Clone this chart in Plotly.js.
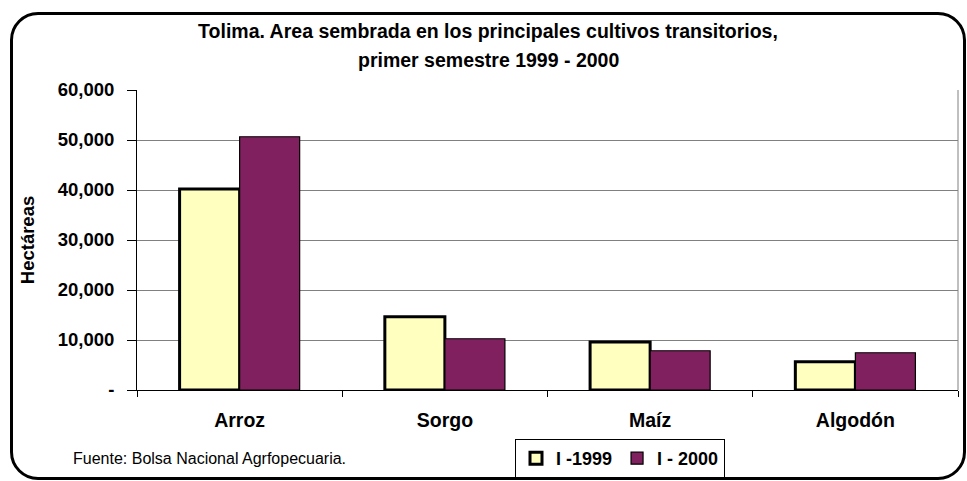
<!DOCTYPE html>
<html>
<head>
<meta charset="utf-8">
<script src="https://cdn.plot.ly/plotly-3.0.1.min.js"></script>
<style>
  html, body { margin: 0; padding: 0; background: #fff; overflow: hidden; }
  #wrap { position: relative; width: 967px; height: 481px; }
  #chart { position: absolute; left: 0; top: 0; width: 967px; height: 481px; }
  #frame { position: absolute; left: 10px; top: 12px; width: 956px; height: 468px;
           box-sizing: border-box; border: 3px solid #000; border-radius: 28px;
           pointer-events: none; }
</style>
</head>
<body>
<div id="wrap">
  <div id="chart"></div>
  <div id="frame"></div>
</div>
<script>
// ---- data ----
const categories = ["Arroz", "Sorgo", "Maíz", "Algodón"];
const seriesNames = ["I -1999", "I - 2000"];
const values1999 = [40200, 14650, 9600, 5650];
const values2000 = [50650, 10250, 7850, 7450];
const yTickVals = [0, 10000, 20000, 30000, 40000, 50000, 60000];
const yTickText = ["-", "10,000", "20,000", "30,000", "40,000", "50,000", "60,000"];
const titleLines = ["Tolima. Area sembrada en los principales cultivos transitorios,", "primer semestre 1999 - 2000"];
const yTitle = "Hectáreas";
const sourceNote = "Fuente: Bolsa Nacional Agrfopecuaria.";

const FONT = "'Liberation Sans', Arial, sans-serif";

const traces = [
  {
    type: "bar", name: seriesNames[0], x: categories, y: values1999,
    marker: { color: "#FFFFC0", line: { color: "#000", width: 3 } },
    hoverinfo: "x+y"
  },
  {
    type: "bar", name: seriesNames[1], x: categories, y: values2000,
    marker: { color: "#80205F", line: { color: "#000", width: 1.2 } },
    hoverinfo: "x+y"
  }
];

const layout = {
  width: 967, height: 481,
  margin: { l: 137, r: 9, t: 90, b: 91, pad: 0, autoexpand: false },
  paper_bgcolor: "#fff", plot_bgcolor: "#fff",
  font: { family: FONT, color: "#000" },
  barmode: "group", bargap: 0.415, bargroupgap: 0,
  title: {
    text: titleLines[0],
    font: { family: FONT, size: 19.5, weight: "bold", color: "#000" },
    x: 488 / 967, xref: "container", xanchor: "center",
    y: 1 - 31 / 481, yref: "container", yanchor: "middle"
  },
  xaxis: {
    type: "category",
    showline: true, linecolor: "#000", linewidth: 1,
    ticks: "outside", tickson: "boundaries", ticklen: 6, tickcolor: "#000", tickwidth: 1,
    tickfont: { family: FONT, size: 19.5, weight: "bold", color: "#000" },
    ticklabelstandoff: 13,
    showgrid: false, zeroline: false, fixedrange: true
  },
  yaxis: {
    range: [0, 60000],
    tickmode: "array", tickvals: yTickVals, ticktext: yTickText,
    showline: true, linecolor: "#000", linewidth: 1,
    ticks: "outside", ticklen: 9, tickcolor: "#000", tickwidth: 1,
    tickfont: { family: FONT, size: 18.5, weight: "bold", color: "#000" },
    ticklabelstandoff: 9,
    showgrid: true, gridcolor: "#808080", gridwidth: 1,
    zeroline: false, fixedrange: true,
    title: { text: yTitle, font: { family: FONT, size: 18.5, weight: "bold", color: "#000" }, standoff: 18 }
  },
  showlegend: true,
  legend: {
    orientation: "h",
    xref: "container", x: 515 / 967, xanchor: "left",
    yref: "container", y: 1 - 439 / 481, yanchor: "top",
    bordercolor: "#000", borderwidth: 1, bgcolor: "#fff",
    font: { family: FONT, size: 18, weight: "bold", color: "#000" },
    itemwidth: 30, tracegroupgap: 0
  },
  shapes: [
    { type: "line", xref: "paper", yref: "paper", x0: 1, x1: 1, y0: 0, y1: 1,
      line: { color: "#808080", width: 1 } }
  ],
  annotations: [
    {
      text: titleLines[1], showarrow: false,
      xref: "paper", yref: "paper",
      x: (488 - 137) / 821, xanchor: "center",
      y: (390 - 60) / 300, yanchor: "middle",
      font: { family: FONT, size: 19.5, weight: "bold", color: "#000" }
    },
    {
      text: sourceNote, showarrow: false,
      xref: "paper", yref: "paper",
      x: (71 - 137) / 821, xanchor: "left",
      y: (390 - 458) / 300, yanchor: "middle",
      font: { family: FONT, size: 16, color: "#000" }
    }
  ]
};

Plotly.newPlot("chart", traces, layout, { displayModeBar: false, staticPlot: true });
</script>
</body>
</html>
